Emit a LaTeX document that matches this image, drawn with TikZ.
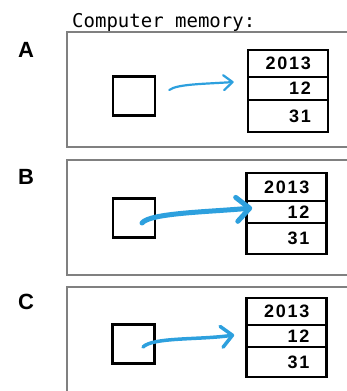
\documentclass[tikz,border=0pt]{standalone}
\usepackage{fontspec}
\setmonofont{DejaVu Sans Mono}
\newfontfamily\labelfont{Liberation Sans}
\newfontfamily\digitfont[LetterSpace=10]{Liberation Sans}
\usetikzlibrary{arrows.meta,calc}
\definecolor{inkblue}{RGB}{45,160,222}
\definecolor{framegray}{RGB}{128,128,128}

\begin{document}
\begin{tikzpicture}[x=1pt,y=-1pt,
  panel/.style={draw=framegray,line width=2pt},
  tag/.style={font=\labelfont\bfseries\fontsize{22}{22}\selectfont,inner sep=0pt},
  srcbox/.style={draw=black,line width=2.6pt,minimum width=42pt,minimum height=39pt,inner sep=0pt},
  cell/.style={draw=black,line width=2.6pt,minimum width=80pt,inner sep=0pt,
    text width=46pt,align=right,font=\digitfont\bfseries\fontsize{18}{18}\selectfont},
  ptr/.style={draw=inkblue,line cap=round,line join=round}
]
\useasboundingbox (0,0) rectangle (347,391);
\clip (0,0) rectangle (347,391);
\fill[white] (0,0) rectangle (347,391);

% heading
\node[font=\ttfamily\fontsize{19}{19}\selectfont,anchor=base west,inner sep=0pt] (heading) at (72,27) {Computer memory:};

% panel frames (they run off the right edge)
\draw[panel] (67,32) rectangle (370,147);
\draw[panel] (67,160) rectangle (370,275);
\draw[panel] (67,287) rectangle (370,410);

\node[tag] (tagA) at (26,50) {A};
\node[tag] (tagB) at (26,177) {B};
\node[tag] (tagC) at (26,302) {C};

% ---- panel A: the pointer stops short of the memory block
\node[srcbox] (srcA) at (134,96) {};
\node[cell,minimum height=27pt] (A1) at (288,63.5) {2013};
\node[cell,minimum height=23pt] (A2) at (288,88.5) {12};
\node[cell,minimum height=32pt] (A3) at (288,116) {31};
\coordinate (tailA) at ($(srcA.east)+(13,-6)$);
\coordinate (headA) at ($(A2.west)+(-13,-6.5)$);
\draw[ptr,line width=2.2pt,-{Straight Barb[length=9pt,width=15pt,round]}]
  (tailA) .. controls +(8,-6) and +(-30,2) .. (headA);

% ---- panel B: the pointer starts inside the box and reaches the block
\node[srcbox] (srcB) at (134,218) {};
\node[cell,minimum height=28pt] (B1) at (286.5,187) {2013};
\node[cell,minimum height=22pt] (B2) at (286.5,212) {12};
\node[cell,minimum height=31pt] (B3) at (286.5,238.5) {31};
\coordinate (tailB) at ($(srcB.center)+(8,5)$);
\coordinate (headB) at ($(B2.west)+(7,-4)$);
\draw[ptr,line width=5pt,-{Straight Barb[length=13pt,width=24pt,round]}]
  (tailB) .. controls +(8,-10) and +(-45,4) .. (headB);

% ---- panel C: the pointer starts inside the box and stops short
\node[srcbox] (srcC) at (133.5,344) {};
\node[cell,minimum height=27pt] (C1) at (286.5,311.5) {2013};
\node[cell,minimum height=22pt] (C2) at (286.5,336) {12};
\node[cell,minimum height=30pt] (C3) at (286.5,362) {31};
\coordinate (tailC) at ($(srcC.center)+(9.5,3)$);
\coordinate (headC) at ($(C2.west)+(-11,-1)$);
\draw[ptr,line width=3.5pt,-{Straight Barb[length=11pt,width=21pt,round]}]
  (tailC) .. controls +(10,-10) and +(-35,5) .. (headC);
\end{tikzpicture}
\end{document}
